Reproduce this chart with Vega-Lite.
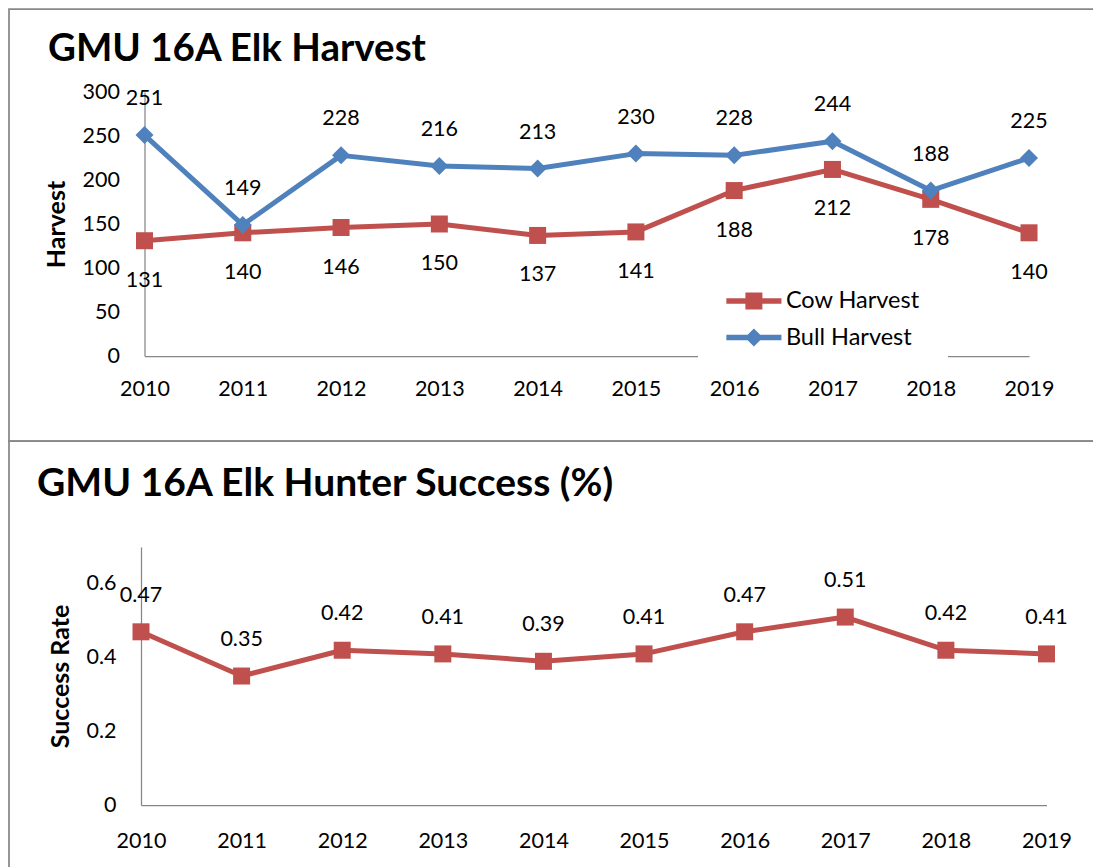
{
  "$schema": "https://vega.github.io/schema/vega-lite/v6.json",
  "padding": {"left": 8, "top": 8, "right": 0, "bottom": 0},
  "background": "white",
  "spacing": 0,
  "bounds": "flush",
  "config": {
    "font": "Lato",
    "view": {"stroke": null},
    "axis": {
      "labelFont": "Lato", "labelFontSize": 21.5, "labelColor": "#000000",
      "domain": true, "domainColor": "#868686", "domainWidth": 1.25,
      "ticks": false, "tickSize": 0, "grid": false,
      "labelFlush": false, "labelOverlap": false, "labelBound": false,
      "titleFont": "Lato", "titleFontSize": 25, "titleFontWeight": "bold", "titleColor": "#000000"
    }
  },
  "datasets": {
    "harvest": [
      {"year": 2010, "series": "Cow Harvest", "value": 131},
      {"year": 2011, "series": "Cow Harvest", "value": 140},
      {"year": 2012, "series": "Cow Harvest", "value": 146},
      {"year": 2013, "series": "Cow Harvest", "value": 150},
      {"year": 2014, "series": "Cow Harvest", "value": 137},
      {"year": 2015, "series": "Cow Harvest", "value": 141},
      {"year": 2016, "series": "Cow Harvest", "value": 188},
      {"year": 2017, "series": "Cow Harvest", "value": 212},
      {"year": 2018, "series": "Cow Harvest", "value": 178},
      {"year": 2019, "series": "Cow Harvest", "value": 140},
      {"year": 2010, "series": "Bull Harvest", "value": 251},
      {"year": 2011, "series": "Bull Harvest", "value": 149},
      {"year": 2012, "series": "Bull Harvest", "value": 228},
      {"year": 2013, "series": "Bull Harvest", "value": 216},
      {"year": 2014, "series": "Bull Harvest", "value": 213},
      {"year": 2015, "series": "Bull Harvest", "value": 230},
      {"year": 2016, "series": "Bull Harvest", "value": 228},
      {"year": 2017, "series": "Bull Harvest", "value": 244},
      {"year": 2018, "series": "Bull Harvest", "value": 188},
      {"year": 2019, "series": "Bull Harvest", "value": 225}
    ],
    "success": [
      {"year": 2010, "value": 0.47},
      {"year": 2011, "value": 0.35},
      {"year": 2012, "value": 0.42},
      {"year": 2013, "value": 0.41},
      {"year": 2014, "value": 0.39},
      {"year": 2015, "value": 0.41},
      {"year": 2016, "value": 0.47},
      {"year": 2017, "value": 0.51},
      {"year": 2018, "value": 0.42},
      {"year": 2019, "value": 0.41}
    ]
  },
  "vconcat": [
    {
      "width": 1084,
      "height": 432,
      "view": {"stroke": "#888888", "strokeWidth": 1.75, "strokeDash": [1084, 432, 1516]},
      "title": {"text": "GMU 16A Elk Harvest", "anchor": "start", "frame": "group", "offset": 0, "dx": 39, "dy": 90, "baseline": "alphabetic", "fontSize": 38.5, "font": "Lato", "fontWeight": "bold", "color": "#000000"},
      "data": {"name": "harvest"},
      "encoding": {
        "x": {"field": "year", "type": "quantitative",
          "scale": {"domain": [2008.6213, 2019.651], "nice": false, "zero": false},
          "axis": {"values": [2010, 2011, 2012, 2013, 2014, 2015, 2016, 2017, 2018, 2019], "format": "d", "labelPadding": 22, "offset": -85, "title": null, "domainDash": [0, 135.5, 884.5, 3000]}},
        "y": {"field": "value", "type": "quantitative",
          "scale": {"domain": [-96.59, 394.32], "nice": false, "zero": false},
          "axis": {"values": [0, 50, 100, 150, 200, 250, 300], "format": "d", "labelPadding": 25, "offset": -135.5, "title": "Harvest", "titleX": -88, "titleY": 215, "titleAngle": -90, "titleAlign": "center", "titleBaseline": "middle", "domainDash": [0, 85, 264, 3000]}}
      },
      "layer": [
        {"transform": [{"filter": {"field": "series", "equal": "Cow Harvest"}}],
          "mark": {"type": "line", "color": "#C0504D", "strokeWidth": 5, "strokeJoin": "round", "strokeCap": "round"}},
        {"transform": [{"filter": {"field": "series", "equal": "Cow Harvest"}}],
          "mark": {"type": "point", "shape": "square", "filled": true, "size": 289, "color": "#C0504D", "opacity": 1}},
        {"transform": [{"filter": {"field": "series", "equal": "Bull Harvest"}}],
          "mark": {"type": "line", "color": "#4F81BD", "strokeWidth": 5, "strokeJoin": "round", "strokeCap": "round"}},
        {"transform": [{"filter": {"field": "series", "equal": "Bull Harvest"}}],
          "mark": {"type": "point", "shape": "diamond", "filled": true, "size": 324, "color": "#4F81BD", "opacity": 1}},
        {"transform": [{"filter": {"field": "series", "equal": "Bull Harvest"}}],
          "mark": {"type": "text", "font": "Lato", "fontSize": 21.5, "color": "#000000", "baseline": "middle", "align": "center", "dy": -36},
          "encoding": {"text": {"field": "value", "type": "quantitative", "format": "d"}}},
        {"transform": [{"filter": {"field": "series", "equal": "Cow Harvest"}}],
          "mark": {"type": "text", "font": "Lato", "fontSize": 21.5, "color": "#000000", "baseline": "middle", "align": "center", "dy": 40},
          "encoding": {"text": {"field": "value", "type": "quantitative", "format": "d"}}},
        {"mark": {"type": "point", "filled": true, "opacity": 0},
          "encoding": {
            "fill": {"field": "series", "type": "nominal",
              "scale": {"domain": ["Cow Harvest", "Bull Harvest"], "range": ["#C0504D", "#4F81BD"]},
              "legend": {"orient": "none", "legendX": 689, "legendY": 252.25, "padding": 28, "fillColor": "#FFFFFF", "title": null, "symbolSize": 289, "symbolOffset": 16.15, "labelOffset": 20.25, "rowPadding": 11.5, "labelFont": "Lato", "labelFontSize": 23.5, "labelColor": "#000000", "symbolOpacity": 1, "symbolStrokeWidth": 0}},
            "shape": {"field": "series", "type": "nominal",
              "scale": {"domain": ["Cow Harvest", "Bull Harvest"], "range": ["M-3.24,-0.32H3.24V0.32H-3.24Z M-1,-1H1V1H-1Z", "M-3.24,-0.32H3.24V0.32H-3.24Z M0,-1.06L1.06,0L0,1.06L-1.06,0Z"]},
              "legend": {"orient": "none", "legendX": 689, "legendY": 252.25, "padding": 28, "fillColor": "#FFFFFF", "title": null, "symbolSize": 289, "symbolOffset": 16.15, "labelOffset": 20.25, "rowPadding": 11.5, "labelFont": "Lato", "labelFontSize": 23.5, "labelColor": "#000000", "symbolOpacity": 1, "symbolStrokeWidth": 0}}
          }}
      ]
    },
    {
      "width": 1084,
      "height": 426,
      "view": {"stroke": "#888888", "strokeWidth": 1.75, "strokeDash": [1084, 1510, 426]},
      "title": {"text": "GMU 16A Elk Hunter Success (%)", "anchor": "start", "frame": "group", "offset": 0, "dx": 28, "dy": 94, "baseline": "alphabetic", "fontSize": 39, "font": "Lato", "fontWeight": "bold", "color": "#000000"},
      "data": {"name": "success"},
      "encoding": {
        "x": {"field": "year", "type": "quantitative",
          "scale": {"domain": [2008.688, 2019.4623], "nice": false, "zero": false},
          "axis": {"values": [2010, 2011, 2012, 2013, 2014, 2015, 2016, 2017, 2018, 2019], "format": "d", "labelPadding": 25, "offset": -62, "title": null, "domainDash": [0, 132, 905.5, 3000]}},
        "y": {"field": "value", "type": "quantitative",
          "scale": {"domain": [-0.16825, 0.98779], "nice": false, "zero": false},
          "axis": {"values": [0, 0.2, 0.4, 0.6], "format": "~g", "labelPadding": 25, "offset": -132, "title": "Success Rate", "titleX": -81, "titleY": 235, "titleAngle": -90, "titleAlign": "center", "titleBaseline": "middle", "domainDash": [0, 62, 258, 3000]}}
      },
      "layer": [
        {"mark": {"type": "line", "color": "#C0504D", "strokeWidth": 5, "strokeJoin": "round", "strokeCap": "round"}},
        {"mark": {"type": "point", "shape": "square", "filled": true, "size": 289, "color": "#C0504D", "opacity": 1}},
        {"mark": {"type": "text", "font": "Lato", "fontSize": 21.5, "color": "#000000", "baseline": "middle", "align": "center", "dy": -36},
          "encoding": {"text": {"field": "value", "type": "quantitative", "format": ".2f"}}}
      ]
    }
  ]
}
